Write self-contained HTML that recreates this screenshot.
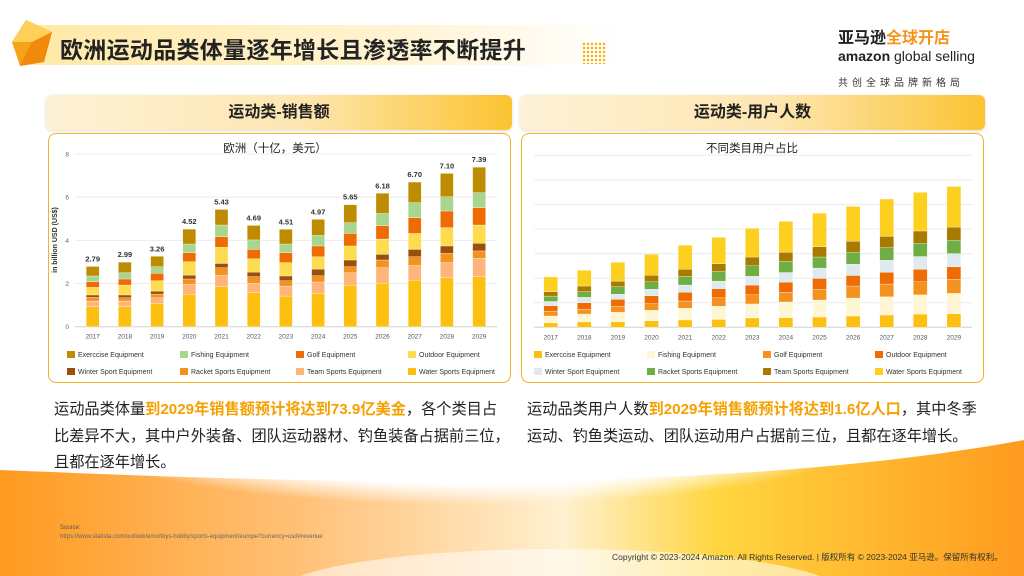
<!DOCTYPE html>
<html><head><meta charset="utf-8">
<style>
*{margin:0;padding:0;box-sizing:border-box}
html,body{width:1024px;height:576px;overflow:hidden}
body{position:relative;font-family:"Liberation Sans","Noto Sans CJK SC",sans-serif;background:#fff}
.bg{position:absolute;left:0;top:0;width:1024px;height:576px;z-index:0}
.abs{position:absolute;z-index:1}
.panelhead{position:absolute;height:35px;border-radius:6px;background:linear-gradient(90deg,#fdf1d6 0%,#fde6b0 55%,#fcc431 100%);box-shadow:0 1px 3px rgba(0,0,0,.15);font-weight:bold;font-size:16px;color:#222;text-align:center;line-height:35px;z-index:1}
.box{position:absolute;border:1.5px solid #f5b323;border-radius:8px;background:#fff;z-index:1}
.para{position:absolute;font-size:15.2px;line-height:26.5px;color:#222;z-index:1;white-space:nowrap}
.para b{color:#f5a000;font-weight:bold}
</style></head><body>
<svg class="bg" viewBox="0 0 1024 576">
<defs>
<linearGradient id="g2" x1="0" y1="0" x2="1" y2="0"><stop offset="0" stop-color="#ff9a1f"/><stop offset="0.3" stop-color="#ffc27a"/><stop offset="0.55" stop-color="#fff0d0"/><stop offset="0.7" stop-color="#ffd640"/><stop offset="1" stop-color="#ff9a1f"/></linearGradient>
<radialGradient id="gw" cx="0.5" cy="0.5" r="0.5"><stop offset="0" stop-color="#fff"/><stop offset="0.7" stop-color="#fff"/><stop offset="1" stop-color="#fff" stop-opacity="0"/></radialGradient>
</defs>
<path d="M0 470 C250 480 700 500 1024 440 L1024 576 L0 576 Z" fill="url(#g2)"/>
<ellipse cx="470" cy="435" rx="400" ry="70" fill="url(#gw)"/>
<path d="M300 576 C400 540 720 540 820 576 Z" fill="#fff" opacity="0.55"/>
</svg>

<div class="abs" style="left:30px;top:25px;width:590px;height:40px;background:linear-gradient(90deg,#ffe9a8 0%,#fff3d0 60%,rgba(255,255,255,0) 100%)"></div>
<svg class="abs" style="left:8px;top:18px" width="48" height="50" viewBox="0 0 48 50"><polygon points="18,2 44,14 36,44 12,48 4,24" fill="#f7a21b"/><polygon points="18,2 44,14 24,24 4,24" fill="#ffcf5a"/><polygon points="24,24 44,14 36,44 12,48" fill="#f08a0c"/></svg>
<div class="abs" style="left:60px;top:31px;font-size:23px;font-weight:bold;color:#222;letter-spacing:0.3px">欧洲运动品类体量逐年增长且渗透率不断提升</div>
<div class="abs" style="left:582px;top:42px;width:24px;height:22px;background-image:radial-gradient(#f7b21b 1.2px,transparent 1.4px);background-size:4px 4px"></div>

<div class="abs" style="left:838px;top:30px;width:150px">
<div style="font-size:16px;font-weight:bold;line-height:18px"><span style="color:#222">亚马逊</span><span style="color:#f7941d">全球开店</span></div>
<div style="font-size:14px;line-height:16px;color:#222"><b>amazon</b> global selling</div>
<div style="font-size:10px;color:#333;letter-spacing:4px;margin-top:10px">共创全球品牌新格局</div>
</div>

<div class="panelhead" style="left:46px;top:95px;width:466px">运动类-销售额</div>
<div class="panelhead" style="left:520px;top:95px;width:465px">运动类-用户人数</div>
<div class="box" style="left:48px;top:133px;width:463px;height:250px"></div>
<div class="box" style="left:521px;top:133px;width:463px;height:250px"></div>

<svg id="c1" class="abs" style="left:0;top:0" width="1024" height="400"></svg>

<div class="para" style="left:54px;top:397px">运动品类体量<b>到2029年销售额预计将达到73.9亿美金</b>，各个类目占<br>比差异不大，其中户外装备、团队运动器材、钓鱼装备占据前三位，<br>且都在逐年增长。</div>
<div class="para" style="left:527px;top:397px">运动品类用户人数<b>到2029年销售额预计将达到1.6亿人口</b>，其中冬季<br>运动、钓鱼类运动、团队运动用户占据前三位，且都在逐年增长。</div>

<div class="abs" style="left:60px;top:525px;font-size:6px;color:#555">Source:</div>
<div class="abs" style="left:60px;top:534px;font-size:6px;color:#666">https://www.statista.com/outlook/emo/toys-hobby/sports-equipment/europe?currency=usd#revenue</div>
<div class="abs" style="left:612px;top:551px;font-size:8.5px;color:#333">Copyright © 2023-2024 Amazon. All Rights Reserved. | 版权所有 © 2023-2024 亚马逊。保留所有权利。</div>

<script>
const years=['2017','2018','2019','2020','2021','2022','2023','2024','2025','2026','2027','2028','2029'];
// Sales chart (billion USD), stacked bottom-up
const salesWater=[0.93,0.93,1.08,1.50,1.85,1.58,1.42,1.54,1.92,2.01,2.16,2.27,2.32];
const salesTeam=[0.26,0.26,0.26,0.46,0.53,0.43,0.46,0.53,0.58,0.72,0.67,0.70,0.85];
const salesRacket=[0.17,0.15,0.17,0.25,0.35,0.31,0.25,0.29,0.28,0.36,0.41,0.43,0.34];
const salesWinter=[0.11,0.13,0.14,0.18,0.20,0.21,0.22,0.31,0.31,0.26,0.34,0.34,0.35];
const salesOutdoor=[0.35,0.46,0.48,0.62,0.75,0.62,0.62,0.57,0.65,0.71,0.74,0.85,0.85];
const salesGolf=[0.26,0.28,0.34,0.42,0.49,0.43,0.46,0.50,0.58,0.62,0.73,0.77,0.80];
const salesFishing=[0.27,0.29,0.31,0.40,0.54,0.44,0.40,0.49,0.50,0.57,0.70,0.66,0.70];
const salesExercise=[0.44,0.49,0.48,0.69,0.72,0.67,0.68,0.74,0.83,0.93,0.95,1.08,1.18];
const salesTotals=['2.79','2.99','3.26','4.52','5.43','4.69','4.51','4.97','5.65','6.18','6.70','7.10','7.39'];
const salesTicks=[0,2,4,6,8];
// Users chart (relative units), stacked bottom-up
const usrExercise=[0.18,0.22,0.23,0.27,0.30,0.32,0.38,0.39,0.42,0.46,0.50,0.54,0.55];
const usrFishing=[0.28,0.32,0.38,0.42,0.48,0.54,0.57,0.64,0.69,0.73,0.74,0.78,0.83];
const usrGolf=[0.20,0.20,0.25,0.27,0.29,0.34,0.37,0.40,0.44,0.49,0.52,0.53,0.58];
const usrOutdoor=[0.22,0.26,0.28,0.32,0.36,0.37,0.40,0.41,0.44,0.43,0.48,0.51,0.50];
const usrWinter=[0.17,0.22,0.21,0.27,0.29,0.31,0.36,0.39,0.42,0.46,0.49,0.52,0.54];
const usrRacket=[0.22,0.23,0.30,0.30,0.36,0.40,0.42,0.45,0.45,0.48,0.51,0.53,0.54];
const usrTeam=[0.18,0.23,0.23,0.27,0.28,0.31,0.36,0.37,0.42,0.45,0.46,0.51,0.54];
const usrWater=[0.60,0.64,0.77,0.85,0.98,1.07,1.17,1.26,1.36,1.42,1.52,1.57,1.65];
const usrGrid=[0,1,2,3,4,5,6,7];

const svg=document.getElementById('c1');
const NS='http://www.w3.org/2000/svg';
function mk(tag,attrs){const e=document.createElementNS(NS,tag);for(const k in attrs)e.setAttribute(k,attrs[k]);svg.appendChild(e);return e;}

function drawChart(cfg){
  const {x0,step,bw,base,top,max,series,names,colors,ticks,showTicks,key}=cfg;
  const ys=v=>base-(v/max)*(base-top);
  ticks.forEach(t=>{
    const l=mk('line',{x1:cfg.gx0,x2:cfg.gx1,y1:ys(t),y2:ys(t),stroke:t===0?'#d0d0d0':'#ececec','stroke-width':1});
    
    
    if(showTicks){const tx=mk('text',{x:cfg.gx0-6,y:ys(t)+2.5,'font-size':6.5,fill:'#666','text-anchor':'end'});tx.textContent=t;
      
      }
  });
  years.forEach((yr,i)=>{
    const cx=x0+i*step;let acc=0;
    series.forEach((s,j)=>{
      const y1=ys(acc),y2=ys(acc+s[i]);acc+=s[i];
      const r=mk('rect',{x:cx-bw/2,y:y2,width:bw,height:y1-y2,fill:colors[j],stroke:'#fff','stroke-width':0.3});
      
      
    });
    if(cfg.totals){const t=mk('text',{x:cx,y:ys(acc)-5,'font-size':7.5,'font-weight':'bold',fill:'#333','text-anchor':'middle'});t.textContent=cfg.totals[i];
      
      }
    const tl=mk('text',{x:cx,y:base+12,'font-size':6.5,fill:'#555','text-anchor':'middle'});tl.textContent=yr;
    
    
  });
  const order=cfg.legendOrder;
  order.forEach((j,k)=>{
    const col=k%4,row=Math.floor(k/4);
    const lx=cfg.lx[col],ly=cfg.ly+row*17;
    const r=mk('rect',{x:lx,y:ly-6,width:8,height:7,fill:colors[j]});
    
    
    const t=mk('text',{x:lx+11,y:ly,'font-size':7,fill:'#333'});t.textContent=names[j];
    
    
  });
  const tt=mk('text',{x:cfg.tx,y:152,'font-size':11.5,fill:'#222','text-anchor':'middle'});tt.textContent=cfg.title;
  
  
}

const sNames=['Water Sports Equipment','Team Sports Equipment','Racket Sports Equipment','Winter Sport Equipment','Outdoor Equipment','Golf Equipment','Fishing Equipment','Exerccise Equipment'];
drawChart({key:'sales',x0:92.7,step:32.2,bw:13,base:326.7,top:154,max:8,gx0:75,gx1:497,
 series:[salesWater,salesTeam,salesRacket,salesWinter,salesOutdoor,salesGolf,salesFishing,salesExercise],
 names:sNames,colors:['#fdc010','#fdb57a','#f4921f','#9a4f0c','#fddc4e','#ef6c05','#a8d68e','#be8c00'],
 ticks:salesTicks,showTicks:true,totals:salesTotals,legendOrder:[7,6,5,4,3,2,1,0],
 lx:[67,180,296,408],ly:357,tx:275,title:'欧洲（十亿，美元）'});
const ya=mk('text',{x:0,y:0,'font-size':7,'font-weight':'bold',fill:'#333','text-anchor':'middle',transform:'translate(57,240) rotate(-90)'});
ya.textContent='in billion USD (US$)';



const uNames=['Exerccise Equipment','Fishing Equipment','Golf Equipment','Outdoor Equipment','Winter Sport Equipment','Racket Sports Equipment','Team Sports Equipment','Water Sports Equipment'];
drawChart({key:'users',x0:550.7,step:33.6,bw:14,base:327.3,top:155.3,max:7,gx0:534,gx1:972,
 series:[usrExercise,usrFishing,usrGolf,usrOutdoor,usrWinter,usrRacket,usrTeam,usrWater],
 names:uNames,colors:['#fdc010','#fff6d6','#f4921f','#ef6c05','#dfeaf0','#6fae45','#a87a00','#fdd020'],
 ticks:usrGrid,showTicks:false,legendOrder:[0,1,2,3,4,5,6,7],
 lx:[534,647,763,875],ly:357,tx:752,title:'不同类目用户占比'});
</script>
</body></html>
